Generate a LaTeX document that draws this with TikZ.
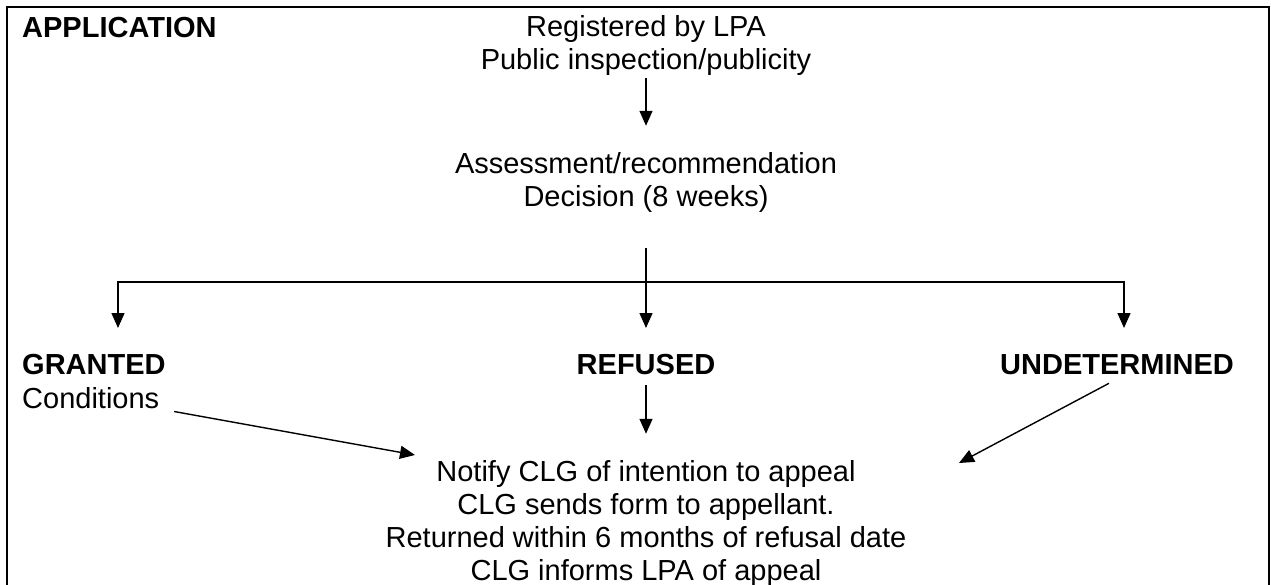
\documentclass[tikz,border=0pt]{standalone}
\usepackage{fontspec}
\setmainfont{Liberation Sans}
\usepackage{tikz}
\usetikzlibrary{arrows.meta}

\begin{document}
\begin{tikzpicture}[x=1pt,y=-1pt]
			\tikzstyle{label} = [inner sep=0pt, align=center, font=\fontsize{29}{33}\selectfont]
			\tikzstyle{outcome} = [label, font=\fontsize{29}{33}\selectfont\bfseries]
			\tikzset{edge/.style = {line width=1.4pt, -{Triangle[length=15pt,width=13pt]}}}
			
			\useasboundingbox (0,0) rectangle (1271,584);
			\draw[line width=2.5pt] (7,590) -- (7,7) -- (1269,7) -- (1269,590);
			
			\node[outcome, anchor=west](application) at (22,28) {APPLICATION};
			\node[label](registered) at (646,45) {Registered by LPA\\Public inspection/publicity};
			\node[label](assessment) at (646,182) {Assessment/recommendation\\Decision (8 weeks)};
			\draw[edge, shorten <=3pt, shorten >=26pt] (registered) to (assessment);
			
			\coordinate (decided) at (646,248);
			\coordinate (split) at (646,282);
			\coordinate (grantedtip) at (118,328);
			\coordinate (refusedtip) at (646,328);
			\coordinate (undettip) at (1124,328);
			\draw[line width=1.4pt] (decided) to (split);
			\draw[edge] (split) -| (grantedtip);
			\draw[edge] (split) to (refusedtip);
			\draw[edge] (split) -| (undettip);
			
			\node[outcome, anchor=west](granted) at (22,365) {GRANTED};
			\node[label, anchor=west](conditions) at (22,398) {Conditions};
			\node[outcome](refused) at (646,365) {REFUSED};
			\node[outcome](undetermined) at (1117,365) {UNDETERMINED};
			
			\node[label](notify) at (646,523) {Notify CLG of intention to appeal\\CLG sends form to appellant.\\Returned within 6 months of refusal date\\CLG informs LPA of appeal};
			\coordinate (notifyleft) at (415,455);
			\coordinate (notifyright) at (959,463);
			\draw[edge, shorten <=10pt, shorten >=26pt] (refused) to (notify);
			\draw[edge, shorten <=15pt] (conditions.south east) to (notifyleft);
			\draw[edge, shorten <=17pt] (undetermined.south -| undettip) to (notifyright);
			
\end{tikzpicture}
\end{document}
